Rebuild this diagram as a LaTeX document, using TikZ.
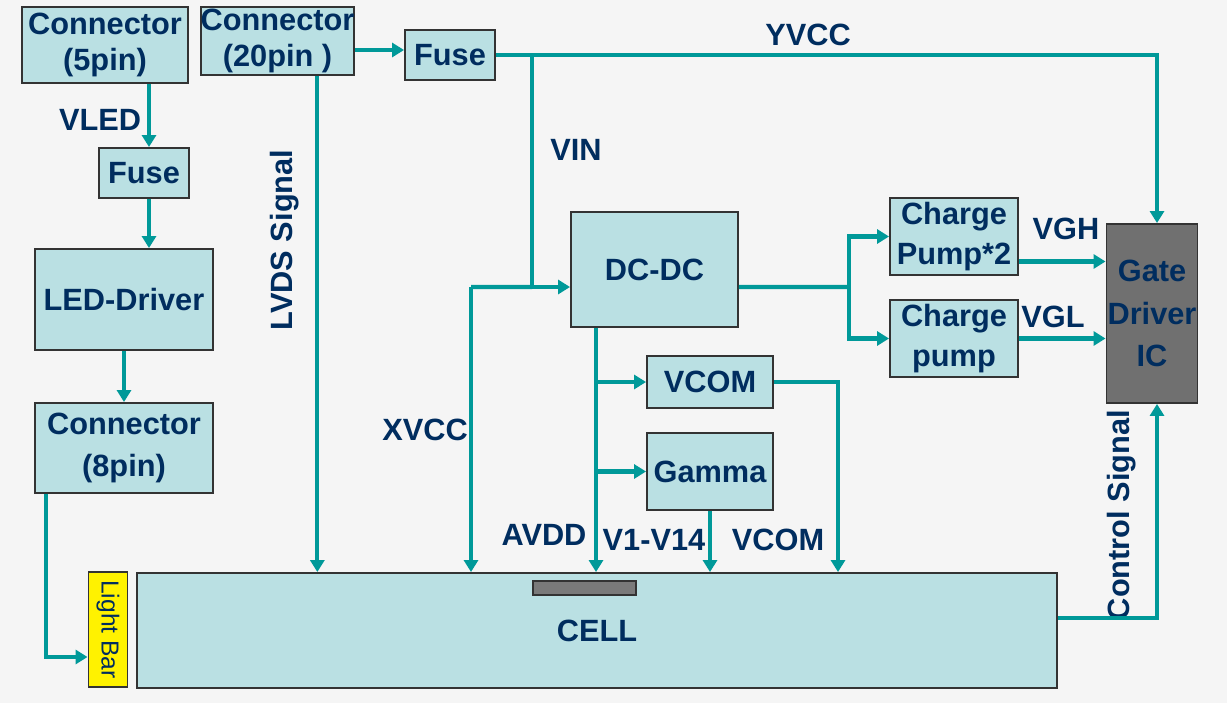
\documentclass[tikz,border=0pt]{standalone}
\usepackage{fontspec}
\setmainfont{Liberation Sans}
\usetikzlibrary{arrows.meta}
\definecolor{boxfill}{RGB}{186,224,227}
\definecolor{wirecol}{RGB}{0,153,153}
\definecolor{ink}{RGB}{0,45,95}
\definecolor{gatefill}{RGB}{112,112,112}
\definecolor{barfill}{RGB}{122,122,122}
\definecolor{bgcol}{RGB}{245,245,245}

\begin{document}
\begin{tikzpicture}[x=0.02cm,y=-0.02cm,
    blk/.style={draw=black!80,line width=1.1pt,fill=boxfill,inner sep=0pt,align=center,
      text=ink,font=\fontsize{17.5}{20}\selectfont\bfseries},
    lbl/.style={text=ink,inner sep=0pt,font=\fontsize{17.5}{20}\selectfont\bfseries},
    wire/.style={draw=wirecol,line width=2.3pt},
    arr/.style={wire,-{Triangle[length=0.24cm,width=0.28cm]}}]
  \fill[bgcol] (0,0) rectangle (1227,703);
  \useasboundingbox (0,0) rectangle (1227,703);
  % left column: backlight
  \node[blk,minimum width=3.32cm,minimum height=1.52cm] (con5) at (105,45) {Connector\\(5pin)};
  \node[blk,minimum width=1.8cm,minimum height=1.0cm] (fuseL) at (144,173) {Fuse};
  \node[blk,minimum width=3.56cm,minimum height=2.02cm] (led) at (124,299.5) {LED-Driver};
  \node[blk,minimum width=3.56cm,minimum height=1.8cm] (con8) at (124,448) {Connector\\[4pt](8pin)};
  \node[draw=black!80,line width=1.1pt,fill=yellow,minimum width=0.78cm,minimum height=2.3cm,inner sep=0pt] (lbar) at (108,629.5) {};
  \node[rotate=-90,text=ink,inner sep=0pt,font=\fontsize{14}{16}\selectfont] (lbartxt) at (lbar) {Light Bar};
  % power and signal blocks
  \node[blk,minimum width=3.06cm,minimum height=1.36cm] (con20) at (277.5,41) {Connector\\(20pin\ )};
  \node[blk,minimum width=1.8cm,minimum height=1.0cm] (fuseT) at (450,55) {Fuse};
  \node[blk,minimum width=3.34cm,minimum height=2.3cm] (dcdc) at (654.5,269.5) {DC-DC};
  \node[blk,minimum width=2.52cm,minimum height=1.04cm] (vcomb) at (710,382) {VCOM};
  \node[blk,minimum width=2.52cm,minimum height=1.54cm] (gamma) at (710,471.5) {Gamma};
  \node[blk,minimum width=2.56cm,minimum height=1.54cm] (cp2) at (954,236.5) {Charge\\[3pt]Pump*2};
  \node[blk,minimum width=2.56cm,minimum height=1.54cm] (cp1) at (954,338.5) {Charge\\[3pt]pump};
  \node[blk,fill=gatefill,minimum width=1.82cm,minimum height=3.58cm] (gate) at (1152,313.5) {Gate\\[4pt]Driver\\[4pt]IC};
  % the panel
  \node[blk,minimum width=18.4cm,minimum height=2.3cm] (cell) at (597,630.5) {CELL};
  \node[draw=black!80,line width=1.1pt,fill=barfill,minimum width=2.06cm,minimum height=0.28cm,inner sep=0pt] (bar) at (584.5,588) {};
  % labels
  \node[lbl] (vled) at (100,120) {VLED};
  \node[lbl] (yvcc) at (808,35) {YVCC};
  \node[lbl] (vin) at (576,150) {VIN};
  \node[lbl] (vgh) at (1066,229) {VGH};
  \node[lbl] (vgl) at (1053,317) {VGL};
  \node[lbl] (xvcc) at (425,430) {XVCC};
  \node[lbl] (avdd) at (544,535) {AVDD};
  \node[lbl] (vv) at (654,540) {V1-V14};
  \node[lbl] (vcoml) at (778,540) {VCOM};
  \node[lbl,rotate=90] (lvds) at (285,240) {LVDS Signal};
  \node[lbl,rotate=90] (ctrl) at (1122,515) {Control Signal};
  % backlight wires
  \coordinate (fin) at ([xshift=0.1cm]fuseL.north);
  \coordinate (fout) at ([xshift=0.1cm]fuseL.south);
  \draw[arr] (fin |- con5.south) -- (fin);
  \draw[arr] (fout) -- (fout |- led.north);
  \draw[arr] (led.south) -- (con8.north);
  \coordinate (c8out) at ([xshift=0.24cm]con8.south west);
  \draw[arr] (c8out) |- ([yshift=-0.55cm]lbar.west);
  % LVDS and supply
  \coordinate (fzin) at ([yshift=0.1cm]fuseT.west);
  \draw[arr] (fzin -| con20.east) -- (fzin);
  \coordinate (lv) at ([xshift=-0.76cm]con20.south east);
  \draw[arr] (lv) -- (lv |- cell.north);
  \coordinate (ydown) at ([xshift=0.1cm]gate.north);
  \draw[arr] (fuseT.east) -| (ydown);
  \coordinate (jvin) at (532,55);
  \coordinate (din) at ([yshift=-0.35cm]dcdc.west);
  \draw[arr] (jvin) |- (din);
  \coordinate (jx) at (471,287);
  \draw[wire] (jvin |- din) -- (jx);
  \draw[arr] (jx) -- (jx |- cell.north);
  % DC-DC to the charge pumps
  \coordinate (dout) at ([yshift=-0.35cm]dcdc.east);
  \coordinate (jcp) at (849,287);
  \draw[wire] (dout) -- (jcp);
  \draw[arr] (jcp) |- (cp2.west);
  \draw[arr] (jcp) |- (cp1.west);
  \coordinate (vghout) at ([yshift=-0.5cm]cp2.east);
  \draw[arr] (vghout) -- (vghout -| gate.west);
  \draw[arr] (cp1.east) -- (cp1.east -| gate.west);
  % AVDD, VCOM and gamma
  \coordinate (dbot) at ([xshift=-1.17cm]dcdc.south);
  \draw[arr] (dbot) -- (dbot |- cell.north);
  \draw[arr] (dbot |- vcomb.west) -- (vcomb.west);
  \draw[arr] (dbot |- gamma.west) -- (gamma.west);
  \draw[arr] (gamma.south) -- (gamma.south |- cell.north);
  \coordinate (jvc) at (838,382);
  \draw[arr] (vcomb.east) -- (jvc) -- (jvc |- cell.north);
  % control signal
  \coordinate (cout) at ([yshift=0.25cm]cell.east);
  \draw[arr] (cout) -| ([xshift=0.1cm]gate.south);
\end{tikzpicture}
\end{document}
